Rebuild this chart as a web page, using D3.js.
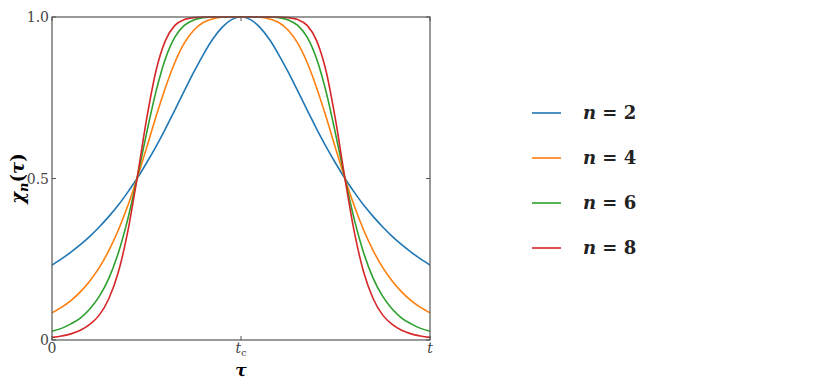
<!DOCTYPE html>
<html>
<head>
<meta charset="utf-8">
<script src="https://cdn.jsdelivr.net/npm/d3@7"></script>
<style>
	body { margin: 0; background: #fff; }
	svg { display: block; }
	text { font-family: "DejaVu Serif", "Liberation Serif", serif; }
</style>
</head>
<body>
<svg width="830" height="388"></svg>
<script>
(function(){
	'use strict';

	// tau sampled from 0 to t (t = 1, tc = 0.5), step 0.025
	const tau = d3.range(41).map(i => i / 40);

	const chi2 = [0.232,0.251,0.272,0.295,0.321,0.350,0.382,0.417,0.457,0.5,0.548,0.599,0.654,0.712,0.771,0.829,0.883,0.931,0.968,0.992,1.0,
		0.992,0.968,0.931,0.883,0.829,0.771,0.712,0.654,0.599,0.548,0.5,0.457,0.417,0.382,0.350,0.321,0.295,0.272,0.251,0.232];
	const chi4 = [0.084,0.101,0.122,0.149,0.183,0.224,0.276,0.339,0.414,0.5,0.594,0.691,0.781,0.859,0.919,0.959,0.983,0.994,0.999,1.0,1.0,
		1.0,0.999,0.994,0.983,0.959,0.919,0.859,0.781,0.691,0.594,0.5,0.414,0.339,0.276,0.224,0.183,0.149,0.122,0.101,0.084];
	const chi6 = [0.027,0.036,0.050,0.068,0.096,0.135,0.190,0.268,0.372,0.5,0.639,0.769,0.871,0.938,0.974,0.991,0.998,1.0,1.0,1.0,1.0,
		1.0,1.0,1.0,0.998,0.991,0.974,0.938,0.871,0.769,0.639,0.5,0.372,0.268,0.190,0.135,0.096,0.068,0.050,0.036,0.027];
	const chi8 = [0.008,0.0125,0.019,0.030,0.048,0.077,0.127,0.208,0.333,0.5,0.682,0.833,0.927,0.974,0.992,0.998,1.0,1.0,1.0,1.0,1.0,
		1.0,1.0,1.0,1.0,0.998,0.992,0.974,0.927,0.833,0.682,0.5,0.333,0.208,0.127,0.077,0.048,0.030,0.019,0.0125,0.008];

	const series = [
		{ n: 2, values: chi2, color: '#1f77b4' },
		{ n: 4, values: chi4, color: '#ff7f0e' },
		{ n: 6, values: chi6, color: '#2ca02c' },
		{ n: 8, values: chi8, color: '#d62728' }
	];

	const xTicks = [0, 0.5, 1];
	const xTickLabels = ['0', 't_c', 't'];
	const yTicks = [0, 0.5, 1];
	const yTickLabels = ['0', '0.5', '1.0'];

	const svg = d3.select('svg');
	const left = 52, right = 430, top = 17, bottom = 340;
	const tickLen = 4;

	const x = d3.scaleLinear().domain([0, 1]).range([left, right]);
	const y = d3.scaleLinear().domain([0, 1]).range([bottom, top]);

	const line = d3.line()
		.x((d, i) => x(tau[i]))
		.y(d => y(d))
		.curve(d3.curveMonotoneX);

	const plot = svg.append('g');

	plot.selectAll('path.curve')
		.data(series)
		.enter().append('path')
			.attr('class', 'curve')
			.attr('d', d => line(d.values))
			.attr('fill', 'none')
			.attr('stroke', d => d.color)
			.attr('stroke-width', 1.6);

	// frame
	svg.append('rect')
		.attr('x', left)
		.attr('y', top)
		.attr('width', right - left)
		.attr('height', bottom - top)
		.attr('fill', 'none')
		.attr('stroke', '#555')
		.attr('stroke-width', 1.2);

	// inward ticks on all four sides
	const ticks = svg.append('g').attr('stroke', '#555').attr('stroke-width', 1);
	xTicks.forEach(v => {
		ticks.append('line').attr('x1', x(v)).attr('x2', x(v)).attr('y1', bottom).attr('y2', bottom - tickLen);
		ticks.append('line').attr('x1', x(v)).attr('x2', x(v)).attr('y1', top).attr('y2', top + tickLen);
	});
	yTicks.forEach(v => {
		ticks.append('line').attr('x1', left).attr('x2', left + tickLen).attr('y1', y(v)).attr('y2', y(v));
		ticks.append('line').attr('x1', right).attr('x2', right - tickLen).attr('y1', y(v)).attr('y2', y(v));
	});

	// tick labels
	const xl = svg.append('g')
		.attr('font-size', 14)
		.attr('fill', '#444')
		.attr('text-anchor', 'middle');
	xTicks.forEach((v, i) => {
		const t = xl.append('text')
			.attr('x', x(v))
			.attr('y', bottom + 13);
		const lab = xTickLabels[i];
		if (lab === '0') {
			t.text('0');
		} else if (lab === 't_c') {
			t.append('tspan').attr('font-style', 'italic').text('t');
			t.append('tspan').attr('font-size', 10).attr('dy', 3).text('c');
		} else {
			t.attr('font-style', 'italic').text(lab);
		}
	});

	svg.append('g')
		.attr('font-size', 14)
		.attr('fill', '#444')
		.attr('text-anchor', 'end')
		.selectAll('text')
		.data(yTicks)
		.enter().append('text')
			.attr('x', left - 3)
			.attr('y', d => y(d) + 5)
			.text((d, i) => yTickLabels[i]);

	// axis titles
	svg.append('text')
		.attr('x', x(0.5))
		.attr('y', 376)
		.attr('text-anchor', 'middle')
		.attr('font-size', 17)
		.attr('font-weight', 'bold')
		.attr('font-style', 'italic')
		.text('τ');

	const yl = svg.append('text')
		.attr('transform', `translate(24, ${y(0.5)}) rotate(-90)`)
		.attr('text-anchor', 'middle')
		.attr('font-size', 18)
		.attr('font-weight', 'bold');
	yl.append('tspan').attr('font-style', 'italic').text('χ');
	yl.append('tspan').attr('font-style', 'italic').attr('font-size', 13).attr('dy', 4).text('n');
	yl.append('tspan').attr('dy', -4).text('(');
	yl.append('tspan').attr('font-style', 'italic').text('τ');
	yl.append('tspan').text(')');

	// legend
	const legend = svg.append('g')
		.selectAll('g')
		.data(series)
		.enter().append('g')
			.attr('transform', (d, i) => `translate(532, ${113 + i * 45})`);

	legend.append('line')
		.attr('x1', 0)
		.attr('x2', 29)
		.attr('stroke', d => d.color)
		.attr('stroke-width', 1.6);

	const lt = legend.append('text')
		.attr('x', 51)
		.attr('y', 6)
		.attr('font-size', 18)
		.attr('font-weight', 'bold')
		.attr('fill', '#222');
	lt.append('tspan').attr('font-style', 'italic').text('n');
	lt.append('tspan').text(d => ' = ' + d.n);
})();
</script>
</body>
</html>
